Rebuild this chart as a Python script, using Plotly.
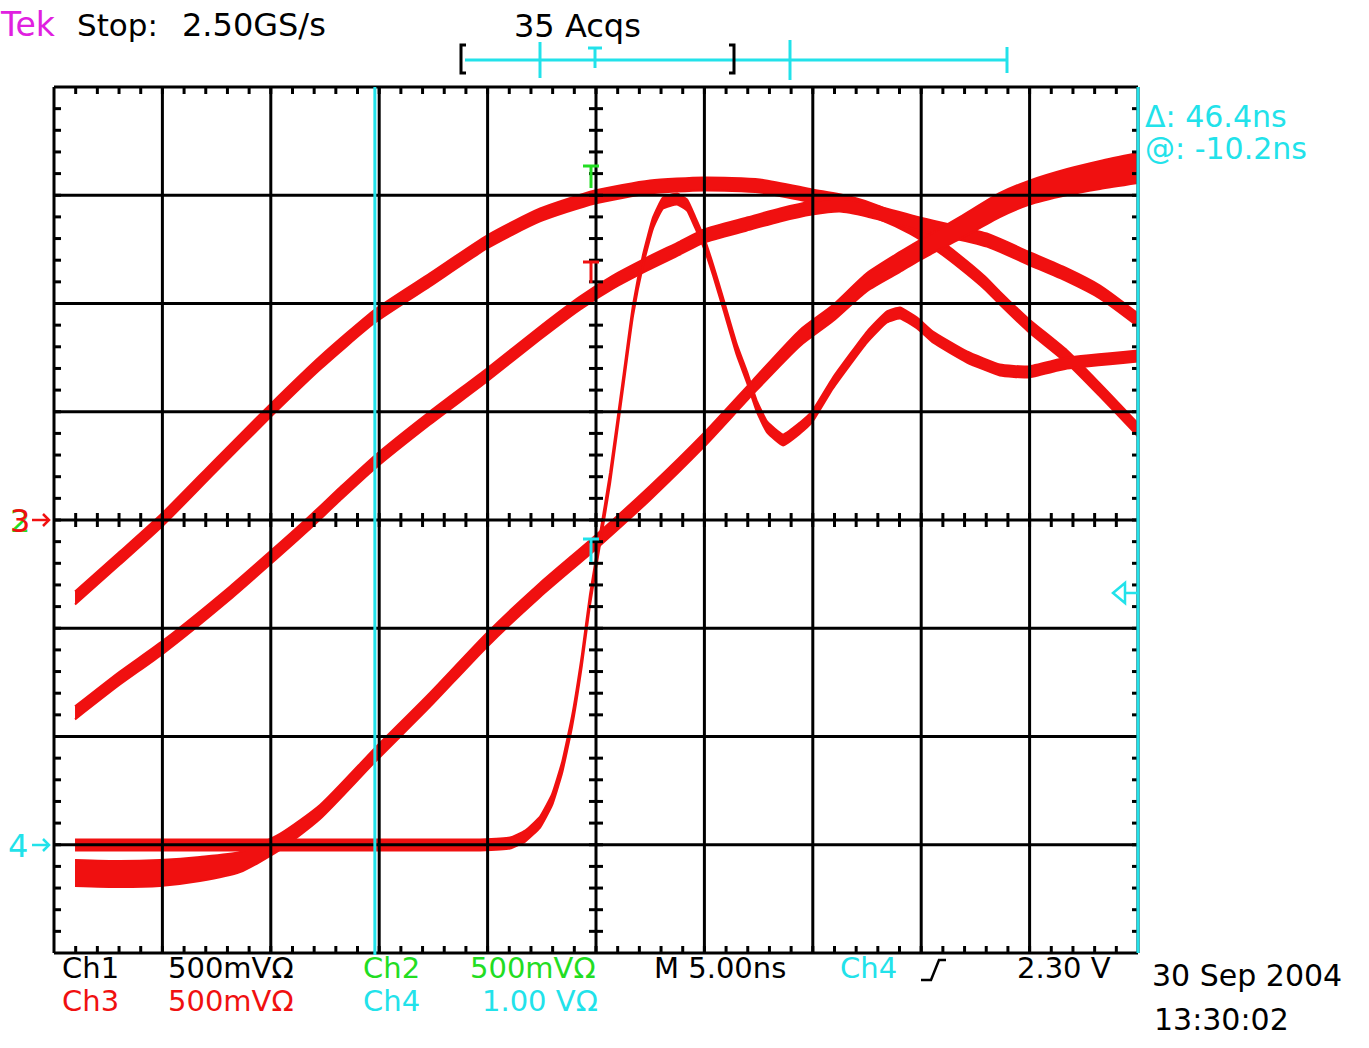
import plotly.graph_objects as go

# ---------------- data (time in ns, Ch3 volts) ----------------
a_t = [-24.03, -21.96, -20.02, -17.57, -15.04, -12.73, -10.19, -7.66, -5.03, -2.58, -0.05,
       2.49, 4.98, 7.56, 9.96, 11.72, 13.10, 14.48, 15.64, 16.79, 17.94, 18.63, 19.93,
       21.73, 23.25, 25.00]
a_v = [-0.360, -0.176, 0.000, 0.249, 0.503, 0.725, 0.942, 1.109, 1.284, 1.409, 1.492,
       1.538, 1.552, 1.543, 1.497, 1.464, 1.418, 1.353, 1.279, 1.192, 1.095, 1.025, 0.901,
       0.753, 0.600, 0.416]

b_t = [-24.03, -21.96, -19.97, -16.88, -15.04, -13.33, -11.81, -10.19, -7.66, -5.03, -2.58,
       -0.74, 0.78, 2.35, 3.87, 4.98, 6.96, 8.49, 9.96, 11.25, 12.50, 14.94, 18.03, 19.93,
       21.73, 23.25, 25.00]
b_v = [-0.891, -0.730, -0.587, -0.337, -0.176, -0.023, 0.120, 0.268, 0.471, 0.670, 0.864,
       1.002, 1.099, 1.182, 1.256, 1.312, 1.367, 1.409, 1.441, 1.455, 1.432, 1.367, 1.293,
       1.210, 1.132, 1.053, 0.924]

c_t = [-24.03, -21.96, -20.11, -18.27, -16.42, -14.58, -12.73, -10.19, -7.66, -5.03, -2.58,
       -0.05, 2.49, 4.98, 7.24, 9.41, 10.93, 12.50, 14.02, 14.94, 16.79, 18.63, 19.93, 21.73,
       23.25, 25.00]
c_v = [-1.630, -1.635, -1.630, -1.612, -1.580, -1.487, -1.349, -1.085, -0.831, -0.554, -0.323,
       -0.106, 0.125, 0.370, 0.614, 0.841, 0.956, 1.099, 1.192, 1.247, 1.349, 1.455, 1.510,
       1.561, 1.594, 1.626]

d_t = [-24.03, -18.27, -13.65, -9.04, -5.35, -3.97, -3.27, -2.58, -2.03, -1.57, -1.11, -0.65,
       -0.28, 0.18, 0.65, 1.25, 1.71, 2.17, 2.63, 3.09, 3.74, 4.20, 4.57, 4.98, 5.40, 5.86,
       6.50, 6.96, 7.43, 7.89, 8.63, 9.41, 9.96, 10.93, 12.50, 13.42, 14.02, 14.81, 15.54,
       17.11, 18.63, 19.93, 21.73, 25.00]
d_v = [-1.501, -1.501, -1.501, -1.501, -1.501, -1.492, -1.460, -1.395, -1.293, -1.146, -0.933,
       -0.647, -0.370, -0.092, 0.194, 0.633, 0.970, 1.201, 1.372, 1.464, 1.483, 1.455, 1.376,
       1.280, 1.155, 1.002, 0.785, 0.661, 0.522, 0.430, 0.370, 0.425, 0.476, 0.633, 0.845,
       0.938, 0.956, 0.910, 0.845, 0.753, 0.693, 0.684, 0.725, 0.758]

cursor_t = -10.2          # @: -10.2ns
header = ["Stop:", "2.50GS/s", "35 Acqs"]
readout = ["Δ: 46.4ns", "@: -10.2ns"]
row1 = ["Ch1", "500mVΩ", "Ch2", "500mVΩ", "M 5.00ns", "Ch4", "2.30 V"]
row2 = ["Ch3", "500mVΩ", "Ch4", "1.00 VΩ"]
stamp = ["30 Sep 2004", "13:30:02"]

# ---------------- styling / layout ----------------
W, H = 1369, 1048
GX0, GX1, GY0, GY1 = 54, 1138, 87, 953
PAD = 10
T_DIV, V_DIV, NX, NY = 5.0, 0.5, 10, 8
TMAX, VMAX = NX * T_DIV / 2, NY * V_DIV / 2
SX = (GX1 - GX0) / (NX * T_DIV)     # px per ns
SY = (GY1 - GY0) / (NY * V_DIV)     # px per V

RED, CYAN, GREEN, MAG, BLACK = "#f01010", "#22e2ea", "#22dd22", "#e020e0", "#000000"
FONT = "DejaVu Sans"

half_a = 6.5
half_b = 6.5
half_c = [13, 13, 13, 12, 10, 8, 7, 7, 7, 7, 7, 7, 7, 7, 7, 8, 8, 9, 10, 10, 11, 12, 12, 13, 14, 15]
half_d = 5.5


def P(x, y):
    """figure pixel -> paper coords"""
    return ((x - (GX0 - PAD)) / (GX1 - GX0 + 2 * PAD),
            ((GY1 + PAD) - y) / (GY1 - GY0 + 2 * PAD))


fig = go.Figure()


def add_band(t, v, half, smooth=0.6):
    if not isinstance(half, list):
        half = [half] * len(v)
    lo = [vi - h / SY for vi, h in zip(v, half)]
    hi = [vi + h / SY for vi, h in zip(v, half)]
    ln = dict(color=RED, width=2, shape="spline", smoothing=smooth)
    fig.add_trace(go.Scatter(x=t, y=lo, mode="lines", line=ln,
                             hoverinfo="skip", showlegend=False))
    fig.add_trace(go.Scatter(x=t, y=hi, mode="lines", line=ln,
                             fill="tonexty", fillcolor=RED, hoverinfo="skip", showlegend=False))


add_band(a_t, a_v, half_a)
add_band(b_t, b_v, half_b)
add_band(c_t, c_v, half_c)
add_band(d_t, d_v, half_d, 0.4)

# graticule
gx, gy = [], []
for i in range(NX + 1):
    t = -TMAX + i * T_DIV
    gx += [t, t, None]; gy += [-VMAX, VMAX, None]
for j in range(NY + 1):
    v = -VMAX + j * V_DIV
    gx += [-TMAX, TMAX, None]; gy += [v, v, None]
L = 7
for k in range(1, NX * 5):
    t = -TMAX + k * T_DIV / 5
    gx += [t, t, None]; gy += [VMAX, VMAX - L / SY, None]
    gx += [t, t, None]; gy += [-VMAX, -VMAX + L / SY, None]
    gx += [t, t, None]; gy += [-L / SY, L / SY, None]
for k in range(1, NY * 5):
    v = -VMAX + k * V_DIV / 5
    gx += [-TMAX, -TMAX + L / SX, None]; gy += [v, v, None]
    gx += [TMAX - 6 / SX, TMAX, None]; gy += [v, v, None]
    gx += [-L / SX, L / SX, None]; gy += [v, v, None]
fig.add_trace(go.Scatter(x=gx, y=gy, mode="lines", line=dict(color=BLACK, width=3),
                         hoverinfo="skip", showlegend=False))

# cyan cursors
fig.add_trace(go.Scatter(x=[cursor_t, cursor_t, None, TMAX, TMAX],
                         y=[-VMAX - 2 / SY, VMAX, None, -VMAX, VMAX], mode="lines",
                         line=dict(color=CYAN, width=3), hoverinfo="skip", showlegend=False))

shapes = []


def seg(x0, y0, x1, y1, color, w=3):
    p0, p1 = P(x0, y0), P(x1, y1)
    shapes.append(dict(type="line", xref="paper", yref="paper", x0=p0[0], y0=p0[1],
                       x1=p1[0], y1=p1[1], line=dict(color=color, width=w)))


def path(pts, color, w=3, closed=False):
    s = "M " + " L ".join(f"{P(x, y)[0]:.5f},{P(x, y)[1]:.5f}" for x, y in pts)
    if closed:
        s += " Z"
    shapes.append(dict(type="path", xref="paper", yref="paper", path=s,
                       line=dict(color=color, width=w)))


# record-view ruler at top
seg(465, 60, 1007, 60, CYAN)
seg(540, 42, 540, 78, CYAN)
seg(790, 40, 790, 80, CYAN)
seg(1007, 47, 1007, 73, CYAN)
seg(588, 48, 602, 48, CYAN)
seg(595, 48, 595, 68, CYAN)
path([(466, 45), (461, 45), (461, 73), (466, 73)], BLACK)
path([(729, 45), (734, 45), (734, 73), (729, 73)], BLACK)

# cursor markers on centre line
for (yt, yb, col) in [(166, 188, GREEN), (262, 283, RED), (539, 562, CYAN)]:
    seg(583, yt, 599, yt, col)
    seg(591, yt, 591, yb, col)

# left channel arrows
for (yy, col) in [(520, RED), (845, CYAN)]:
    seg(32, yy, 49, yy, col, 2.5)
    path([(43, yy - 6), (49, yy), (43, yy + 6)], col, 2.5)

# trigger level marker (right)
path([(1113, 593), (1125, 583), (1125, 603)], CYAN, 2.5, closed=True)
seg(1125, 593, 1138, 593, CYAN, 2.5)

# trigger slope symbol
path([(921, 980), (931, 980), (939, 960), (946, 960)], BLACK, 2.5)

ann = []


def text(s, x, y, color, size=31):
    px, py = P(x, y)
    ann.append(dict(text=s, x=px, y=py, xref="paper", yref="paper", xanchor="left",
                    yanchor="middle", showarrow=False,
                    font=dict(family=FONT, size=size, color=color)))


text("Tek", -2, 25, MAG, 33)
text(header[0], 75, 25, BLACK)
text(header[1], 180, 25, BLACK, 32)
text(header[2], 512, 26, BLACK, 32)
text(readout[0], 1143, 116, CYAN, 30)
text(readout[1], 1143, 148, CYAN, 30)
r1x = [60, 166, 361, 468, 652, 838, 1015]
r1c = [BLACK, BLACK, GREEN, GREEN, BLACK, CYAN, BLACK]
for s, x, c in zip(row1, r1x, r1c):
    text(s, x, 968, c, 29)
r2x = [60, 166, 361, 480]
r2c = [RED, RED, CYAN, CYAN]
for s, x, c in zip(row2, r2x, r2c):
    text(s, x, 1001, c, 29)
text(stamp[0], 1150, 975, BLACK, 30)
text(stamp[1], 1152, 1019, BLACK, 30)
text("2", 8, 521, GREEN, 32)
text("3", 8, 521, RED, 32)
text("4", 6, 846, CYAN, 32)

fig.update_layout(
    width=W, height=H,
    margin=dict(l=GX0 - PAD, r=W - GX1 - PAD, t=GY0 - PAD, b=H - GY1 - PAD, pad=0),
    paper_bgcolor="white", plot_bgcolor="white",
    xaxis=dict(range=[-TMAX - PAD / SX, TMAX + PAD / SX], visible=False, fixedrange=True),
    yaxis=dict(range=[-VMAX - PAD / SY, VMAX + PAD / SY], visible=False, fixedrange=True),
    shapes=shapes, annotations=ann, showlegend=False,
)

fig.write_html("out.html", config={"displayModeBar": False})
